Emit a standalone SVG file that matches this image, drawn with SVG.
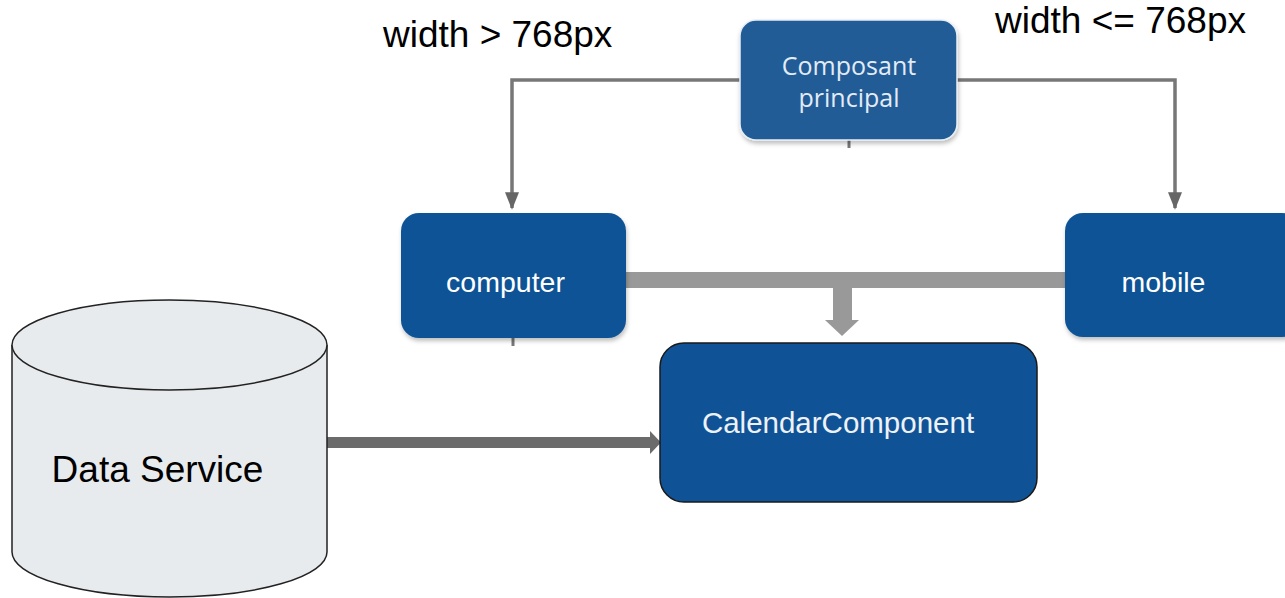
<svg xmlns="http://www.w3.org/2000/svg" width="1285" height="598" viewBox="0 0 1285 598">
<defs>
<style>
.box{fill:#0f5396;}
.lbl{font-family:"Liberation Sans",Arial,sans-serif;fill:#ffffff;font-size:28.5px;text-anchor:middle;}
.cap{font-family:"Liberation Sans",Arial,sans-serif;fill:#000;font-size:37px;}
.thin{fill:none;stroke:#777;stroke-width:3.5;}
</style>
<marker id="ah" viewBox="0 0 10 10" refX="9" refY="5" markerWidth="5" markerHeight="5" orient="auto" markerUnits="strokeWidth">
<path d="M0,1 L10,5 L0,9 Z" fill="#666"/>
</marker>
<filter id="sh" x="-10%" y="-10%" width="130%" height="130%">
<feDropShadow dx="1" dy="3" stdDeviation="2" flood-color="#000" flood-opacity="0.25"/>
</filter>
</defs>
<rect width="1285" height="598" fill="#fff"/>
<text class="cap" x="383" y="47">width &gt; 768px</text>
<text class="cap" x="995" y="33">width &lt;= 768px</text>
<g id="connectors">
<path class="thin" d="M742,80 H512 V208" marker-end="url(#ah)"/>
<path class="thin" d="M957,80 H1175 V208" marker-end="url(#ah)"/>
<line x1="849" y1="140" x2="849" y2="148" stroke="#777" stroke-width="3"/>
<line x1="513" y1="338" x2="513" y2="346" stroke="#777" stroke-width="3"/>
<rect x="624" y="272" width="444" height="16" fill="#999"/>
<path d="M833,287 H852 V320 H859 L842,336 L825,320 H833 Z" fill="#999"/>
<rect x="327" y="437" width="325" height="11" fill="#6b6b6b"/>
<path d="M650,431 L661,442.5 L650,454 Z" fill="#6b6b6b"/>
</g>
<g id="composant">
<rect x="740" y="20" width="217" height="120" rx="16" fill="#245c96" filter="url(#sh)" stroke="#e8eef5" stroke-width="1.5"/>
<text class="lbl" x="849" y="75" style="font-family:'Open Sans','Noto Sans',sans-serif;font-size:25px;font-weight:500;fill:#e3ecf6">Composant</text>
<text class="lbl" x="849" y="107" style="font-family:'Open Sans','Noto Sans',sans-serif;font-size:25px;font-weight:500;fill:#e3ecf6">principal</text>
</g>
<g id="computer">
<rect class="box" x="401" y="213" width="225" height="125" rx="18" filter="url(#sh)"/>
<text class="lbl" x="505.5" y="292">computer</text>
</g>
<g id="mobile">
<rect class="box" x="1065" y="213" width="235" height="124" rx="18" filter="url(#sh)"/>
<text class="lbl" x="1163.5" y="292">mobile</text>
</g>
<g id="calendar">
<rect class="box" x="660" y="343" width="377" height="159" rx="24" stroke="#1a1a1a" stroke-width="1.5"/>
<text class="lbl" x="838" y="433" style="font-size:29.5px;fill:#eef2f7">CalendarComponent</text>
</g>
<g id="dataservice">
<path d="M12,345 V552 A157.5,45 0 0 0 327,552 V345" fill="#e8ebed" stroke="#222" stroke-width="1.5"/>
<ellipse cx="169.5" cy="345" rx="157.5" ry="45" fill="#e8ebed" stroke="#222" stroke-width="1.5"/>
<text x="157.5" y="482" style="font-family:'Liberation Sans',Arial,sans-serif;font-size:37px;fill:#000;text-anchor:middle">Data Service</text>
</g>
</svg>
